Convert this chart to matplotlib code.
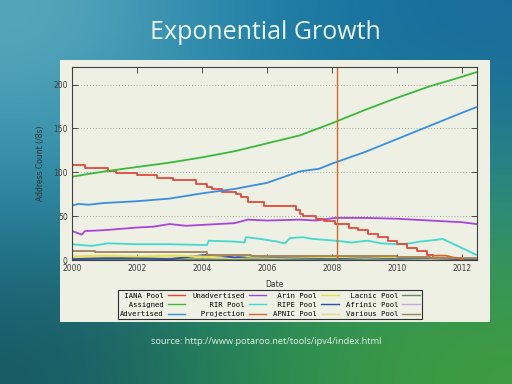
import numpy as np
import matplotlib
matplotlib.use('Agg')
import matplotlib.pyplot as plt
from matplotlib.patches import Rectangle
from matplotlib.lines import Line2D

# data (units: /8s)
assigned_yr = [2000, 2001, 2002, 2003, 2004, 2005, 2006, 2007, 2008, 2009,
               2010, 2011, 2012, 2012.42]
assigned = [95, 101, 106, 111, 117, 124, 133, 142, 156, 171, 185, 198, 209,
            214]

advertised_yr = [2000, 2000.2, 2000.5, 2001, 2002, 2003, 2004, 2005, 2006,
                 2007, 2007.6, 2008, 2009, 2010, 2011, 2012, 2012.42]
advertised = [62, 64, 63, 65, 67, 70, 76, 81, 88, 101, 104, 110, 123, 138,
              153, 168, 174]

iana_yr = [2000, 2000.4, 2001.1, 2001.35, 2002.0, 2002.6, 2003.1, 2003.8,
           2004.15, 2004.3, 2004.6, 2005.05, 2005.2, 2005.4, 2005.9, 2006.9,
           2007.0, 2007.1, 2007.5, 2007.75, 2008.1, 2008.5, 2008.8, 2009.1,
           2009.4, 2009.7, 2010.0, 2010.3, 2010.6, 2010.9, 2011.1]
iana = [108, 105, 102, 99, 97, 94, 91, 87, 83, 81, 78, 75, 72, 66, 62, 57,
        52, 50, 47, 44, 41, 37, 34, 30, 26, 22, 18, 14, 10, 6, 4]

unadv_yr = [2000, 2000.3, 2000.4, 2001, 2002, 2002.5, 2003, 2003.5, 2004,
            2004.5, 2005, 2005.4, 2006, 2007, 2007.5, 2008.1, 2009, 2010,
            2011, 2012, 2012.42]
unadv = [33, 29, 33, 34, 37, 38, 41, 39, 40, 41, 42, 46, 45, 46, 45, 48, 48,
         47, 45, 43, 41]

rir_yr = [2000, 2000.6, 2001.1, 2002, 2003, 2004.15, 2004.2, 2005, 2005.3,
          2005.35, 2005.8, 2006.3, 2006.55, 2006.7, 2007.1, 2007.4, 2008.1,
          2008.6, 2009.1, 2009.5, 2010, 2010.4, 2010.7, 2011.2, 2011.4,
          2012.42]
rir = [18, 16, 19, 18, 18, 17, 22, 21, 20, 26, 24, 21, 19, 25, 26, 24, 22,
       20, 22, 19, 18, 19, 21, 23, 24, 6]

various_yr = [2000, 2000.7, 2004.15, 2005.5, 2007, 2008.15, 2010, 2011,
              2012.42]
various = [10, 9, 6, 5, 5, 4, 3, 2, 2]

pool_yr = [2000, 2001, 2002, 2003, 2004.15, 2005, 2005.5, 2006.5, 2008,
           2009, 2010, 2011, 2012, 2012.42]
arin = [4, 5, 4, 5, 4, 6, 4, 4, 3, 4, 3, 3, 2, 2]
ripe = [1, 2, 2, 1, 6, 3, 4, 3, 2, 3, 2, 2, 1, 1]
apnic = [2, 3, 2, 3, 3, 2, 3, 2, 3, 2, 2, 1, 1, 1]
lacnic = [1, 1, 1, 1, 1, 1, 1, 1, 1, 1, 1, 1, 0.5, 0.5]
afrinic = [0.5, 0.5, 0.5, 0.5, 5, 1, 4, 1, 0.5, 0.5, 0.5, 0.5, 0.5, 0.5]

proj_date = 2008.15
proj_yr = [2011.1, 2011.5, 2011.7, 2012.0]
proj = [5, 5, 3, 1]

colors = {'IANA Pool': '#e04a3a', 'Assigned': '#3cb83c',
          'Advertised': '#3a8ee0', 'Unadvertised': '#a844d8',
          'RIR Pool': '#44d8d0', 'Projection': '#d06a30',
          'Arin Pool': '#e8e040', 'RIPE Pool': '#3050a8',
          'APNIC Pool': '#e0d890', 'Lacnic Pool': '#6a8a6a',
          'Afrinic Pool': '#c0a8e0', 'Various Pool': '#a08060'}

fig = plt.figure(figsize=(5.12, 3.84), dpi=100)

# slide background
bg = fig.add_axes([0, 0, 1, 1], zorder=-10)
grad = np.array([[[0x58, 0xa8, 0xbc], [0x1e, 0x7e, 0xa8], [0x18, 0x6c, 0x9c]],
                 [[0x2a, 0x88, 0xa8], [0x2a, 0x8a, 0x90], [0x2a, 0x8a, 0x80]],
                 [[0x18, 0x58, 0x66], [0x2a, 0x8c, 0x50], [0x40, 0x9c, 0x40]]]
                ) / 255.
bg.imshow(grad, extent=[0, 1, 0, 1], aspect='auto', interpolation='bicubic')
bg.set_axis_off()
bg.add_patch(Rectangle((60 / 512., 1 - 322 / 384.), 430 / 512., 262 / 384.,
                       facecolor='#edf0e3', edgecolor='none'))
bg.set_xlim(0, 1)
bg.set_ylim(0, 1)

fig.text(0.518, 0.915, 'Exponential Growth', ha='center', va='center',
         fontsize=18, family='Open Sans', color='#eaf6f4')
fig.text(0.52, 0.111, 'source: http://www.potaroo.net/tools/ipv4/index.html',
         ha='center', va='center', fontsize=6.7, family='Open Sans',
         color='#e0f2e4')

ax = fig.add_axes([72 / 512., 1 - 260 / 384., 405 / 512., 193 / 384.])
ax.set_facecolor('#edf0e3')
lw = 1.3
ax.plot(pool_yr, afrinic, color=colors['Afrinic Pool'], lw=lw)
ax.plot(pool_yr, lacnic, color=colors['Lacnic Pool'], lw=lw)
ax.plot(pool_yr, apnic, color=colors['APNIC Pool'], lw=lw)
ax.plot(pool_yr, ripe, color=colors['RIPE Pool'], lw=lw)
ax.plot(pool_yr, arin, color=colors['Arin Pool'], lw=lw)
ax.step(various_yr, various, where='post', color=colors['Various Pool'], lw=lw)
ax.plot(rir_yr, rir, color=colors['RIR Pool'], lw=lw)
ax.plot(unadv_yr, unadv, color=colors['Unadvertised'], lw=lw)
ax.step(iana_yr, iana, where='post', color=colors['IANA Pool'], lw=lw)
ax.plot(advertised_yr, advertised, color=colors['Advertised'], lw=lw)
ax.plot(assigned_yr, assigned, color=colors['Assigned'], lw=lw)
ax.plot(proj_yr, proj, color=colors['Projection'], lw=lw)
ax.axvline(proj_date, color=colors['Projection'], lw=1.0)

ax.set_xlim(2000, 2012.45)
ax.set_ylim(0, 220)
ax.set_xticks([2000, 2002, 2004, 2006, 2008, 2010, 2012])
ax.set_yticks([0, 50, 100, 150, 200])
ax.tick_params(direction='in', length=4, width=0.6, labelsize=5.5,
               top=True, right=True, colors='#303030', pad=3)
for t in ax.get_xticklabels() + ax.get_yticklabels():
    t.set_color('#404040')
ax.yaxis.grid(True, linestyle=(0, (1, 2.5)), color='#909090', lw=0.6)
for side in ax.spines.keys():
    ax.spines[side].set_color('#404040')
    ax.spines[side].set_linewidth(0.8)
ax.set_xlabel('Date', fontsize=5.5, color='#303030', labelpad=5)
ax.set_ylabel('Address Count (/8s)', fontsize=5.5, color='#303030',
              labelpad=6)

# gnuplot style key: right aligned label then sample
order = [['IANA Pool', 'Assigned', 'Advertised'],
         ['Unadvertised', 'RIR Pool', 'Projection'],
         ['Arin Pool', 'RIPE Pool', 'APNIC Pool'],
         ['Lacnic Pool', 'Afrinic Pool', 'Various Pool']]
handles = []
labels = []
for col in order:
    width = max(len(s) for s in col)
    for name in col:
        handles.append(Line2D([], [], color=colors[name], lw=1.0))
        labels.append(name.rjust(width))
leg = fig.legend(handles, labels, ncol=4, loc='center',
                 bbox_to_anchor=(0.527, 0.206), markerfirst=False,
                 prop={'family': 'DejaVu Sans Mono', 'size': 5.2},
                 handlelength=2.4, handletextpad=0.6, columnspacing=0.95,
                 labelspacing=0.45, borderpad=0.3, fancybox=False,
                 framealpha=1)
leg.get_frame().set_edgecolor('#303030')
leg.get_frame().set_linewidth(0.8)
leg.get_frame().set_facecolor('#edf0e3')

fig.savefig('out.png', dpi=100)
